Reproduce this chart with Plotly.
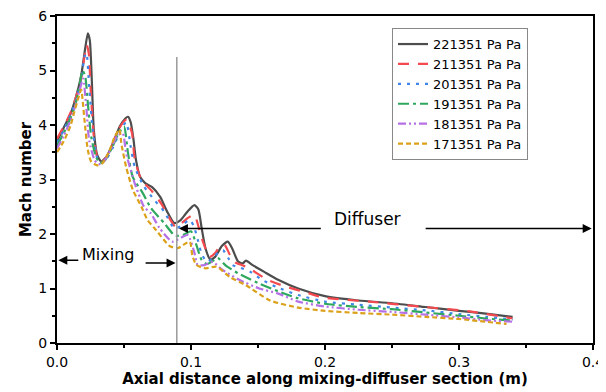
import plotly.graph_objects as go

names = ["221351 Pa Pa", "211351 Pa Pa", "201351 Pa Pa", "191351 Pa Pa", "181351 Pa Pa", "171351 Pa Pa"]

x_221 = [0, 0.005, 0.010, 0.014, 0.018, 0.021, 0.023, 0.0245, 0.026, 0.0275, 0.030, 0.033, 0.037, 0.042, 0.047, 0.051, 0.053, 0.055, 0.057, 0.059, 0.062, 0.066, 0.071, 0.077, 0.082, 0.0875, 0.092, 0.097, 0.1025, 0.1055, 0.108, 0.111, 0.1145, 0.118, 0.123, 0.1275, 0.131, 0.135, 0.1385, 0.141, 0.146, 0.155, 0.165, 0.18, 0.2, 0.225, 0.25, 0.275, 0.3, 0.32, 0.34]
y_221 = [3.70, 3.95, 4.2, 4.5, 4.9, 5.4, 5.68, 5.55, 4.8, 3.9, 3.45, 3.33, 3.42, 3.68, 3.98, 4.12, 4.15, 4.05, 3.75, 3.35, 3.05, 2.93, 2.86, 2.68, 2.42, 2.2, 2.25, 2.4, 2.53, 2.45, 2.1, 1.72, 1.53, 1.58, 1.78, 1.86, 1.72, 1.5, 1.46, 1.51, 1.43, 1.3, 1.16, 1.0, 0.86, 0.78, 0.73, 0.66, 0.59, 0.54, 0.48]

x_211 = [0, 0.005, 0.010, 0.014, 0.018, 0.0205, 0.0222, 0.0238, 0.025, 0.0275, 0.030, 0.032, 0.036, 0.041, 0.046, 0.050, 0.052, 0.054, 0.056, 0.058, 0.063, 0.070, 0.078, 0.0825, 0.0885, 0.093, 0.098, 0.1025, 0.106, 0.109, 0.114, 0.118, 0.1215, 0.125, 0.129, 0.133, 0.139, 0.146, 0.157, 0.17, 0.188, 0.2, 0.233, 0.27, 0.308, 0.34]
y_211 = [3.75, 3.97, 4.22, 4.5, 4.85, 5.25, 5.47, 5.3, 4.7, 3.79, 3.4, 3.3, 3.38, 3.62, 3.92, 4.07, 4.1, 4.0, 3.85, 3.38, 2.99, 2.81, 2.55, 2.35, 2.13, 2.2, 2.3, 2.35, 2.1, 1.85, 1.58, 1.65, 1.77, 1.8, 1.62, 1.48, 1.42, 1.33, 1.16, 1.04, 0.91, 0.83, 0.76, 0.67, 0.58, 0.45]

x_201 = [0, 0.005, 0.010, 0.014, 0.018, 0.0205, 0.022, 0.024, 0.0267, 0.030, 0.033, 0.037, 0.042, 0.047, 0.0516, 0.055, 0.058, 0.065, 0.0728, 0.08, 0.0877, 0.093, 0.099, 0.102, 0.105, 0.108, 0.112, 0.116, 0.121, 0.124, 0.128, 0.131, 0.137, 0.144, 0.153, 0.1635, 0.18, 0.2, 0.225, 0.25, 0.275, 0.3, 0.32, 0.34]
y_201 = [3.68, 3.9, 4.18, 4.45, 4.8, 5.25, 5.32, 4.7, 3.9, 3.4, 3.3, 3.38, 3.6, 3.88, 4.05, 3.6, 3.23, 2.87, 2.62, 2.41, 2.1, 2.15, 2.26, 2.15, 1.9, 1.63, 1.49, 1.55, 1.68, 1.70, 1.55, 1.43, 1.38, 1.31, 1.16, 1.03, 0.88, 0.76, 0.7, 0.65, 0.6, 0.53, 0.48, 0.43]

x_191 = [0, 0.005, 0.010, 0.014, 0.017, 0.019, 0.021, 0.023, 0.0255, 0.029, 0.032, 0.036, 0.041, 0.046, 0.050, 0.053, 0.0565, 0.064, 0.070, 0.08, 0.088, 0.094, 0.1, 0.104, 0.108, 0.112, 0.116, 0.12, 0.126, 0.135, 0.15, 0.165, 0.18, 0.2, 0.225, 0.25, 0.275, 0.3, 0.32, 0.34]
y_191 = [3.62, 3.85, 4.12, 4.4, 4.75, 5.0, 4.9, 4.4, 3.79, 3.42, 3.3, 3.36, 3.58, 3.85, 3.97, 3.48, 3.05, 2.75, 2.48, 2.2, 1.97, 1.98, 2.05, 1.8, 1.52, 1.45, 1.5, 1.56, 1.42, 1.28, 1.1, 0.95, 0.82, 0.72, 0.66, 0.62, 0.56, 0.5, 0.45, 0.41]

x_181 = [0, 0.005, 0.010, 0.014, 0.017, 0.0195, 0.022, 0.024, 0.028, 0.031, 0.035, 0.040, 0.045, 0.049, 0.0516, 0.058, 0.065, 0.070, 0.0765, 0.086, 0.0975, 0.1026, 0.105, 0.11, 0.116, 0.1236, 0.136, 0.151, 0.1646, 0.18, 0.2, 0.225, 0.25, 0.275, 0.3, 0.32, 0.34]
y_181 = [3.57, 3.8, 4.08, 4.38, 4.65, 4.85, 4.28, 3.72, 3.36, 3.28, 3.33, 3.55, 3.8, 3.85, 3.48, 2.93, 2.5, 2.38, 2.11, 1.86, 1.98, 1.65, 1.43, 1.43, 1.49, 1.34, 1.16, 1.0, 0.91, 0.76, 0.67, 0.61, 0.57, 0.52, 0.47, 0.42, 0.39]

x_171 = [0, 0.005, 0.010, 0.013, 0.016, 0.018, 0.0205, 0.023, 0.0255, 0.030, 0.034, 0.039, 0.043, 0.0466, 0.048, 0.0516, 0.0566, 0.063, 0.0675, 0.074, 0.084, 0.09, 0.099, 0.101, 0.104, 0.111, 0.119, 0.129, 0.141, 0.159, 0.18, 0.2, 0.225, 0.25, 0.275, 0.3, 0.32, 0.3355]
y_171 = [3.5, 3.7, 3.98, 4.25, 4.5, 4.65, 4.09, 3.54, 3.33, 3.26, 3.3, 3.52, 3.78, 3.92, 3.66, 3.23, 2.81, 2.5, 2.26, 2.07, 1.78, 1.74, 1.86, 1.61, 1.43, 1.37, 1.40, 1.21, 1.06, 0.78, 0.65, 0.59, 0.55, 0.52, 0.48, 0.44, 0.39, 0.35]

xs = [x_221, x_211, x_201, x_191, x_181, x_171]
ys = [y_221, y_211, y_201, y_191, y_181, y_171]
colors = ["#4d4d4d", "#f44a4f", "#3f86e8", "#2ea85e", "#b570e6", "#dca11a"]
dashes = ["solid", "11px,9px", "3px,6px", "11px,4px,3px,4px", "8px,3px,2px,3px,2px,3px", "5px,3px"]

FONT = "DejaVu Sans"

fig = go.Figure()
for n, x, y, c, d in zip(names, xs, ys, colors, dashes):
    fig.add_trace(go.Scatter(x=x, y=y, mode="lines", name=n,
                             line=dict(color=c, width=2.2, dash=d, shape="spline", smoothing=0.6)))

# vertical separator
fig.add_shape(type="line", x0=0.0894, x1=0.0894, y0=0, y1=5.25, xref="x", yref="y",
              line=dict(color="#9a9a9a", width=1.5))

arrow = dict(xref="x", yref="y", axref="x", ayref="y", showarrow=True, text="",
             arrowhead=2, arrowsize=1.2, arrowwidth=1.5, arrowcolor="black")
fig.add_annotation(x=0.001, y=1.52, ax=0.017, ay=1.52, **arrow)
fig.add_annotation(x=0.0885, y=1.47, ax=0.065, ay=1.47, **arrow)
fig.add_annotation(x=0.091, y=2.1, ax=0.198, ay=2.1, **arrow)
fig.add_annotation(x=0.399, y=2.1, ax=0.274, ay=2.1, **arrow)
fig.add_annotation(x=0.038, y=1.62, text="Mixing", showarrow=False,
                   font=dict(family=FONT, size=16, color="black"))
fig.add_annotation(x=0.232, y=2.28, text="Diffuser", showarrow=False,
                   font=dict(family=FONT, size=17, color="black"))

axis_common = dict(showline=True, linecolor="black", linewidth=2, mirror=True,
                   ticks="outside", ticklen=5, tickwidth=1.5, tickcolor="black",
                   showgrid=False, zeroline=False, automargin=False,
                   ticklabeloverflow="allow",
                   tickfont=dict(family=FONT, size=14, color="black"))
fig.update_xaxes(range=[0, 0.4], dtick=0.1, tickformat=".1f",
                 minor=dict(ticks="outside", ticklen=3, dtick=0.05, tickcolor="black"),
                 title=dict(text="<b>Axial distance along mixing-diffuser section (m)</b>",
                            font=dict(family=FONT, size=15, color="black"), standoff=5),
                 **axis_common)
fig.update_yaxes(range=[0, 6], dtick=1,
                 minor=dict(ticks="outside", ticklen=3, dtick=0.5, tickcolor="black"),
                 title=dict(text="<b>Mach number</b>",
                            font=dict(family=FONT, size=15, color="black"), standoff=3),
                 **axis_common)

# the page body has an 8px margin, so the figure is sized to fit inside the window
fig.update_layout(width=598, height=384, margin=dict(l=49, r=13, t=8, b=49),
                  plot_bgcolor="white", paper_bgcolor="white",
                  legend=dict(x=0.625, y=0.963, xanchor="left", yanchor="top",
                              bgcolor="white", bordercolor="#888", borderwidth=1,
                              font=dict(family=FONT, size=13, color="black"),
                              tracegroupgap=0, itemwidth=30))
fig.write_html("out.html")
